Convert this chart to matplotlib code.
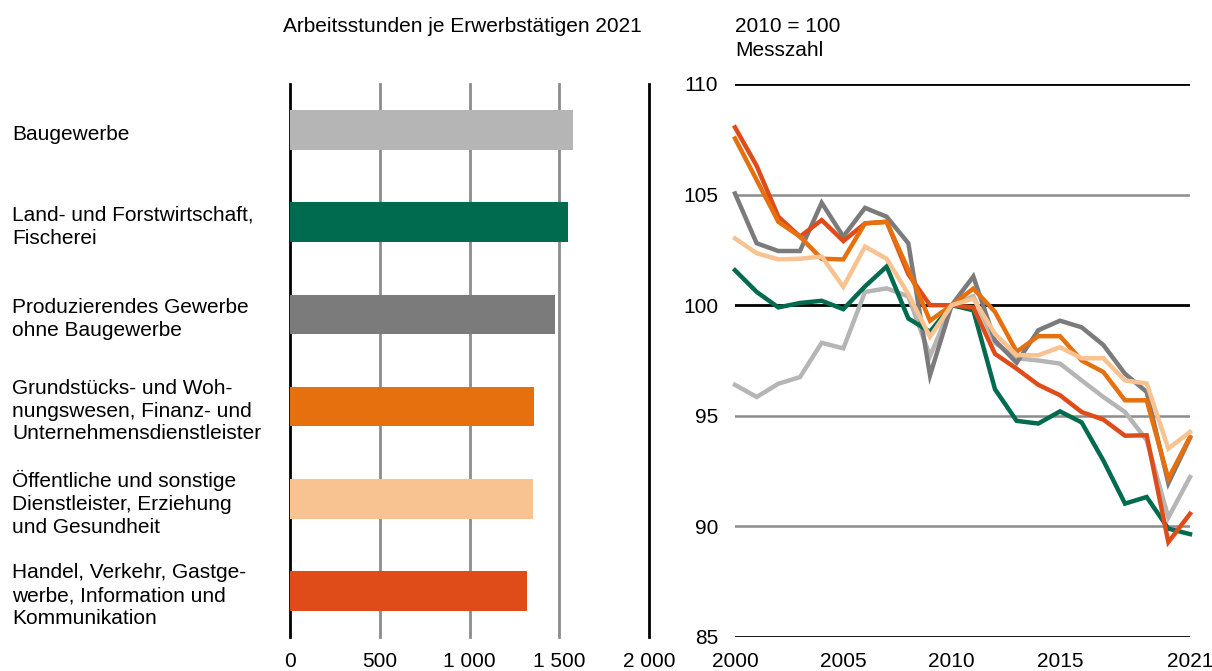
import numpy as np
import matplotlib
matplotlib.use("Agg")
import matplotlib.pyplot as plt
import matplotlib.transforms as mtransforms

plt.rcParams['font.family'] = ['Liberation Sans', 'DejaVu Sans']
plt.rcParams['font.size'] = 15

# bar data: hours per employed person 2021
categories = [
    "Baugewerbe",
    "Land- und Forstwirtschaft,\nFischerei",
    "Produzierendes Gewerbe\nohne Baugewerbe",
    "Grundstücks- und Woh-\nnungswesen, Finanz- und\nUnternehmensdienstleister",
    "Öffentliche und sonstige\nDienstleister, Erziehung\nund Gesundheit",
    "Handel, Verkehr, Gastge-\nwerbe, Information und\nKommunikation",
]
hours = [1577, 1549, 1476, 1359, 1354, 1320]

# line data: index 2010 = 100
years = list(range(2000, 2022))
bau = [96.4, 95.85, 96.45, 96.75, 98.3, 98.05, 100.6, 100.76, 100.4, 97.7, 100.0,
       100.4, 98.3, 97.6, 97.5, 97.36, 96.6, 95.85, 95.17, 93.9, 90.4, 92.23]
land = [101.58, 100.6, 99.9, 100.1, 100.2, 99.82, 100.85, 101.75, 99.4, 98.8, 100.0,
        99.77, 96.2, 94.77, 94.65, 95.2, 94.7, 92.98, 91.03, 91.33, 89.9, 89.65]
prod = [105.05, 102.8, 102.45, 102.45, 104.63, 103.1, 104.4, 104.0, 102.8, 96.83, 100.0,
        101.3, 98.4, 97.4, 98.87, 99.3, 99.0, 98.2, 96.9, 96.08, 91.95, 94.0]
grund = [107.54, 105.66, 103.77, 103.1, 102.1, 102.07, 103.7, 103.77, 101.6, 99.3, 100.0,
         100.75, 99.7, 97.9, 98.6, 98.6, 97.5, 96.98, 95.7, 95.7, 92.16, 94.04]
oeff = [103.02, 102.35, 102.07, 102.1, 102.2, 100.83, 102.65, 102.1, 100.5, 98.57, 100.0,
        100.3, 98.7, 97.74, 97.74, 98.1, 97.6, 97.6, 96.6, 96.46, 93.52, 94.27]
handel = [108.04, 106.3, 104.0, 103.1, 103.85, 102.9, 103.7, 103.77, 101.4, 100.0, 100.0,
          99.9, 97.8, 97.13, 96.4, 95.93, 95.17, 94.83, 94.1, 94.12, 89.29, 90.57]

c_bau = "#b5b5b6"
c_land = "#006b4f"
c_prod = "#7b7b7c"
c_grund = "#e6700e"
c_oeff = "#f9c291"
c_handel = "#e04c19"
bar_colors = [c_bau, c_land, c_prod, c_grund, c_oeff, c_handel]

W, H = 1212, 671
fig = plt.figure(figsize=(W / 100, H / 100), dpi=100)

# ---- bar chart ----
ax1 = fig.add_axes([290 / W, 1 - 637 / H, 359 / W, 553 / H])
pos = np.arange(len(categories))
ax1.barh(pos, hours, height=0.43, color=bar_colors, zorder=3)
ax1.set_xlim(0, 2000)
ax1.set_ylim(len(categories) - 0.5, -0.5)
for xv in [0, 500, 1000, 1500, 2000]:
    col = "black" if xv in (0, 2000) else "#8c8c8c"
    ax1.axvline(xv, color=col, lw=2, zorder=1, clip_on=False)
for s in ax1.spines.values():
    s.set_visible(False)
ax1.set_xticks([0, 500, 1000, 1500, 2000])
ax1.set_xticklabels(["0", "500", "1 000", "1 500", "2 000"])
ax1.set_yticks([])
ax1.tick_params(axis="x", length=0, pad=11)

trans = mtransforms.blended_transform_factory(fig.transFigure, ax1.transData)
for p, lab in zip(pos, categories):
    ax1.text(12 / W, p + 0.05, lab, transform=trans, ha="left", va="center",
             linespacing=1.25)

fig.text(283 / W, 1 - 27 / H, "Arbeitsstunden je Erwerbstätigen 2021",
         ha="left", va="center")

# ---- line chart ----
ax2 = fig.add_axes([735 / W, 1 - 637 / H, 455 / W, 553 / H])
for yv in [85, 90, 95, 100, 105, 110]:
    col = "black" if yv in (85, 100, 110) else "#8c8c8c"
    ax2.axhline(yv, color=col, lw=2 if col == "black" else 1.8, zorder=1)
series = [(bau, c_bau), (prod, c_prod), (land, c_land),
          (handel, c_handel), (grund, c_grund), (oeff, c_oeff)]
for i, (vals, col) in enumerate(series):
    ax2.plot(years, vals, color=col, lw=3.2, zorder=3 + i, clip_on=False,
             solid_joinstyle="miter")
ax2.set_xlim(2000, 2021)
ax2.set_ylim(85, 110)
for s in ax2.spines.values():
    s.set_visible(False)
ax2.set_xticks([2000, 2005, 2010, 2015, 2021])
ax2.set_yticks([85, 90, 95, 100, 105, 110])
ax2.tick_params(axis="x", length=0, pad=11)
ax2.tick_params(axis="y", length=0, pad=12)

fig.text(735 / W, 1 - 26 / H, "2010 = 100", ha="left", va="center")
fig.text(735 / W, 1 - 50 / H, "Messzahl", ha="left", va="center")

fig.savefig("out.png", dpi=100)
